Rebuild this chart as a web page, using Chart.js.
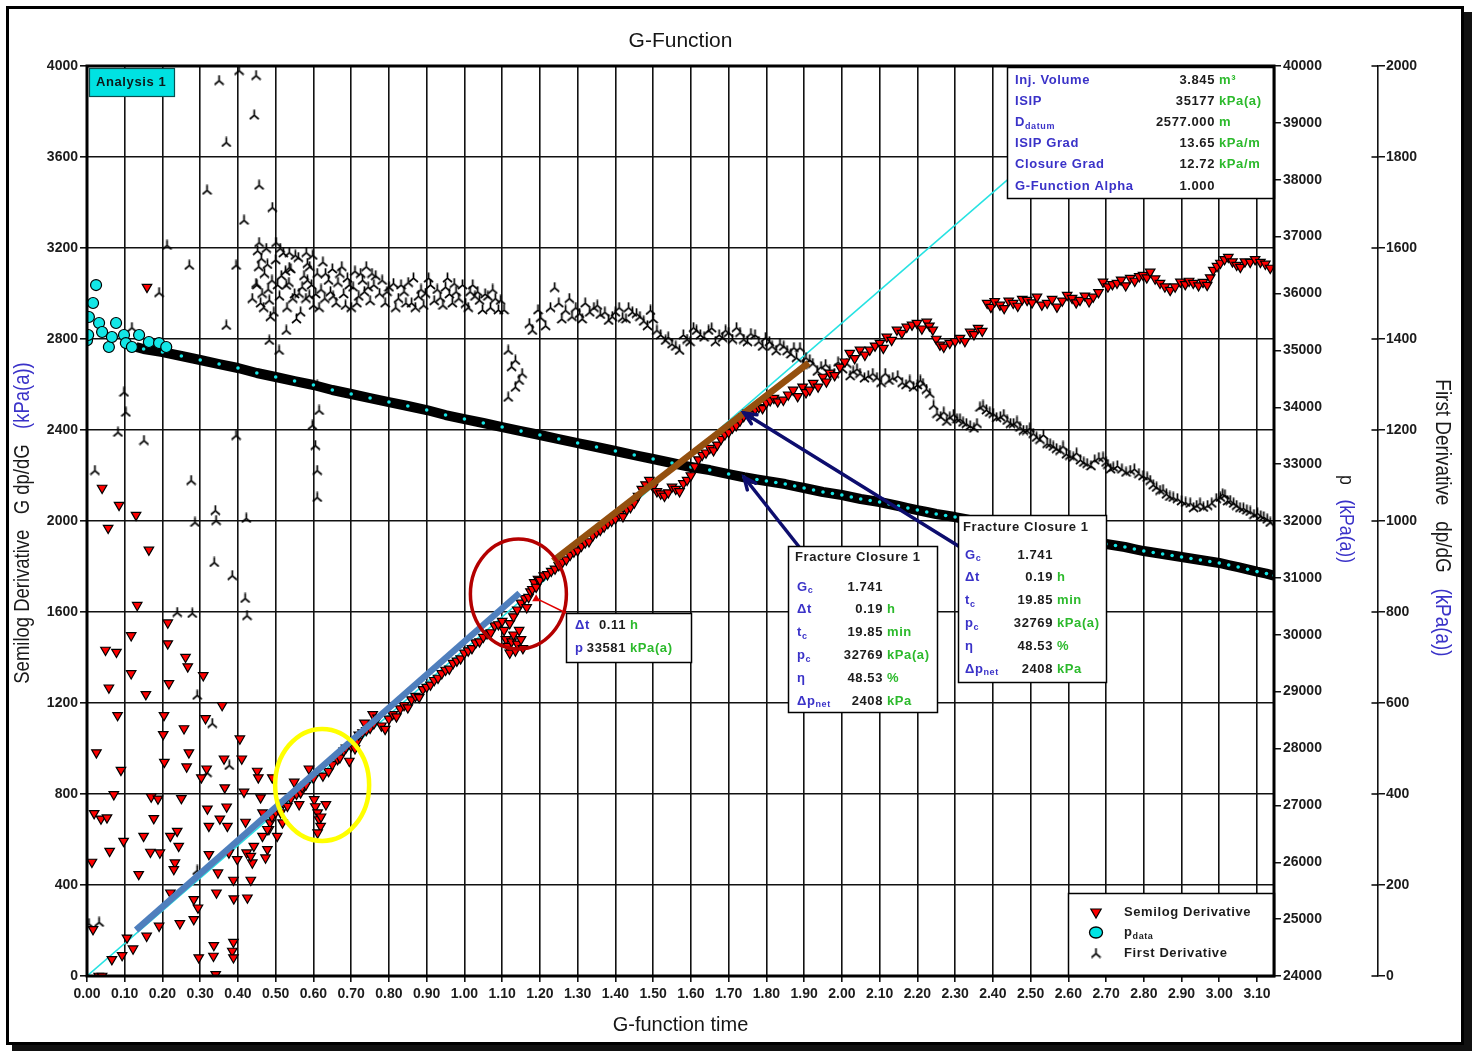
<!DOCTYPE html>
<html>
<head>
<meta charset="utf-8">
<title>G-Function</title>
<script src="https://cdn.jsdelivr.net/npm/chart.js@4.4.1/dist/chart.umd.min.js"></script>
<style>
  html, body { margin: 0; padding: 0; background: #fff; }
  #wrap { width: 1474px; height: 1051px; position: relative; }
  canvas { display: block; }
</style>
</head>
<body>
<div id="wrap"><canvas id="chart" width="1474" height="1051"></canvas></div>
<script>
// ---------------- data ----------------
// Semilog derivative G·dp/dG (kPa(a)) vs G-function time
const semilogPoints = [
  [0.159,3028],[0.040,2145],[0.085,2070],[0.056,1969],[0.130,2026],[0.164,1873],
  [0.133,1630],[0.049,1433],[0.078,1424],[0.117,1497],[0.214,1553],[0.214,1461],[0.261,1402],[0.267,1360],
  [0.117,1330],[0.308,1321],[0.217,1286],[0.058,1267],[0.156,1238],[0.358,1190],[0.081,1146],[0.204,1146],
  [0.314,1132],[0.257,1088],[0.202,1062],[0.405,1043],[0.025,982],[0.270,982],[0.090,905],[0.205,940],
  [0.264,920],[0.363,955],[0.410,955],[0.317,911],[0.303,872],[0.451,901],[0.454,872],[0.491,872],
  [0.365,828],[0.416,809],[0.071,798],[0.170,788],[0.188,779],[0.250,781],[0.460,784],[0.019,715],
  [0.037,691],[0.053,696],[0.177,693],[0.319,735],[0.370,744],[0.352,691],[0.372,659],[0.323,659],
  [0.420,677],[0.465,718],[0.485,674],[0.482,645],[0.097,593],[0.239,637],[0.221,615],[0.150,615],
  [0.243,571],[0.060,549],[0.168,545],[0.193,542],[0.323,535],[0.376,542],[0.423,542],[0.442,571],
  [0.478,557],[0.013,501],[0.233,498],[0.230,469],[0.398,513],[0.438,498],[0.473,520],[0.137,447],
  [0.347,454],[0.388,422],[0.434,422],[0.221,366],[0.343,366],[0.389,340],[0.425,344],[0.283,337],
  [0.294,300],[0.283,249],[0.246,231],[0.191,220],[0.158,176],[0.106,168],[0.122,120],[0.093,91],
  [0.066,73],[0.016,205],[0.336,135],[0.388,149],[0.385,110],[0.335,88],[0.296,81],[0.388,81],
  [0.341,7],[0.031,0],[0.040,0],
  [0.434,527],[0.465,615],[0.478,645],[0.490,700],[0.500,720],[0.504,615],[0.513,718],[0.518,674],
  [0.520,760],[0.531,747],[0.540,780],[0.549,853],[0.555,800],[0.562,754],[0.566,806],[0.570,830],
  [0.580,840],[0.588,911],[0.600,870],[0.602,776],[0.605,745],[0.611,718],[0.615,688],[0.619,659],
  [0.611,630],[0.620,700],[0.625,880],[0.633,754],[0.640,900],[0.650,930],[0.664,952],[0.670,960],
  [0.680,990],[0.686,1003],[0.695,945],[0.700,1010],[0.710,1000],[0.717,1033],[0.720,1060],[0.730,1070],
  [0.735,1113],[0.740,1080],[0.750,1090],[0.757,1150],[0.760,1110],[0.770,1135],
  [0.780,1100],[0.790,1085],[0.800,1130],[0.810,1150],[0.820,1140],[0.830,1175],[0.840,1190],[0.850,1180],
  [0.860,1215],[0.870,1230],[0.880,1225],[0.890,1260],[0.900,1270],[0.910,1280],[0.920,1300],[0.930,1310],
  [0.940,1330],[0.950,1345],[0.960,1350],[0.970,1375],[0.980,1385],[0.990,1395],[1.000,1420],[1.010,1430],
  [1.020,1440],[1.030,1465],[1.040,1470],[1.050,1490],[1.060,1505],[1.070,1510],[1.080,1540],[1.090,1545],
  [1.100,1560],[1.105,1520],[1.110,1480],[1.115,1450],[1.120,1420],[1.125,1470],[1.130,1500],[1.135,1430],
  [1.140,1460],[1.145,1520],[1.150,1480],[1.155,1440],[1.120,1550],[1.130,1580],[1.140,1610],[1.150,1640],
  [1.160,1660],[1.165,1620],[1.170,1665],[1.175,1690],[1.180,1700],[1.185,1730],[1.190,1710],[1.195,1745],
  [1.200,1740],[1.210,1760],[1.220,1765],[1.230,1780],[1.240,1790],[1.250,1805],[1.260,1820],[1.270,1830],
  [1.280,1850],[1.290,1865],[1.300,1870],[1.310,1890],[1.320,1905],[1.330,1910],[1.340,1935],[1.350,1950],
  [1.360,1960],[1.370,1975],[1.380,1990],[1.390,2000],[1.400,2010],[1.410,2030],[1.420,2020],[1.430,2050],
  [1.440,2060],[1.450,2080],[1.460,2110],[1.470,2140],[1.480,2160],[1.490,2180],[1.500,2150],[1.510,2130],
  [1.520,2120],[1.530,2110],[1.540,2125],[1.550,2150],[1.560,2140],[1.570,2130],[1.580,2165],[1.590,2180],
  [1.600,2200],[1.610,2240],[1.620,2270],[1.630,2290],[1.640,2300],[1.650,2320],[1.660,2310],[1.670,2335],
  [1.680,2360],[1.690,2380],[1.700,2390],[1.710,2410],[1.720,2420],[1.730,2440],[1.740,2460],[1.750,2475],
  [1.760,2470],[1.770,2490],[1.780,2500],[1.790,2495],[1.800,2520],[1.810,2530],[1.820,2540],[1.830,2525],
  [1.845,2532],[1.858,2555],[1.871,2576],[1.883,2548],[1.896,2590],[1.905,2565],[1.915,2576],[1.924,2606],
  [1.937,2590],[1.950,2633],[1.959,2612],[1.968,2651],[1.981,2640],[1.995,2677],[2.008,2700],[2.021,2738],
  [2.034,2715],[2.048,2752],[2.061,2730],[2.074,2752],[2.088,2770],[2.101,2782],[2.110,2760],[2.119,2809],
  [2.132,2795],[2.146,2840],[2.159,2826],[2.172,2853],[2.186,2862],[2.199,2870],[2.212,2845],[2.225,2875],
  [2.232,2858],[2.241,2840],[2.250,2800],[2.260,2774],[2.270,2765],[2.286,2782],[2.300,2790],[2.313,2804],
  [2.326,2790],[2.340,2831],[2.350,2820],[2.361,2848],[2.372,2835],[2.385,2958],[2.395,2940],[2.405,2965],
  [2.419,2950],[2.430,2935],[2.442,2968],[2.454,2958],[2.466,2945],[2.478,2975],[2.491,2971],[2.504,2960],
  [2.517,2985],[2.530,2950],[2.544,2958],[2.557,2975],[2.570,2941],[2.584,2968],[2.597,2993],[2.610,2980],
  [2.621,2960],[2.631,2971],[2.644,2990],[2.655,2965],[2.666,2985],[2.680,3005],[2.692,3051],[2.705,3030],
  [2.717,3040],[2.729,3046],[2.740,3060],[2.752,3035],[2.764,3068],[2.776,3055],[2.788,3075],[2.798,3081],
  [2.808,3070],[2.817,3095],[2.830,3065],[2.843,3046],[2.856,3030],[2.870,3015],[2.883,3030],[2.897,3051],
  [2.910,3040],[2.920,3055],[2.931,3046],[2.945,3035],[2.957,3050],[2.968,3037],[2.976,3070],[2.984,3103],
  [2.994,3120],[3.003,3134],[3.014,3150],[3.024,3160],[3.035,3140],[3.046,3125],[3.056,3116],[3.068,3140],
  [3.082,3138],[3.095,3150],[3.109,3138],[3.122,3130],[3.135,3112]
];

// First derivative dp/dG (kPa(a)) vs G-function time
const firstDerivPoints = [
  [0.350,1969],[0.403,1991],[0.448,1980],[0.443,1893],[0.369,1833],[0.318,1728],[0.456,1739],[0.491,1690],
  [0.416,1662],[0.456,1613],[0.501,1613],[0.212,1607],[0.271,1563],[0.395,1563],[0.462,1578],[0.536,1591],
  [0.581,1591],[0.584,1567],[0.536,1558],[0.448,1523],[0.464,1501],[0.191,1503],[0.438,1490],[0.483,1486],
  [0.528,1519],[0.562,1501],[0.589,1497],[0.369,1431],[0.483,1398],[0.528,1420],[0.509,1376],[0.119,1426],
  [0.098,1284],[0.103,1240],[0.082,1196],[0.151,1178],[0.021,1112],[0.276,1090],[0.340,1024],[0.422,1007],
  [0.286,998],[0.342,1002],[0.395,1189],[0.337,910],[0.385,881],[0.419,831],[0.424,793],[0.239,800],
  [0.279,798],[0.332,556],[0.377,464],[0.318,448],[0.292,618],[0.292,233],[0.032,119],[0.005,116],
  [0.610,1299],[0.615,1244],[0.605,1167],[0.610,1112],[0.610,1053],[0.597,1211],
  [0.450,1520],[0.455,1560],[0.460,1480],[0.470,1545],[0.475,1600],[0.480,1510],[0.490,1530],[0.495,1460],
  [0.500,1575],[0.510,1495],[0.515,1540],[0.520,1590],[0.530,1470],[0.535,1525],[0.540,1555],[0.550,1500],
  [0.555,1445],[0.560,1580],[0.570,1515],[0.575,1540],[0.580,1490],[0.590,1560],[0.595,1520],[0.600,1475],
  [0.610,1545],[0.620,1510],[0.625,1570],[0.630,1490],[0.640,1530],[0.645,1505],[0.650,1555],[0.660,1480],
  [0.665,1525],[0.670,1545],[0.680,1500],[0.690,1535],[0.700,1470],[0.705,1515],[0.710,1550],[0.720,1495],
  [0.730,1530],[0.735,1505],[0.740,1560],[0.750,1485],[0.760,1520],[0.765,1540],
  [0.452,1595],[0.468,1470],[0.478,1565],[0.486,1450],[0.505,1520],[0.512,1600],[0.526,1550],[0.545,1490],
  [0.552,1585],[0.566,1460],[0.584,1530],[0.598,1585],[0.606,1500],[0.615,1470],[0.632,1545],[0.652,1495],
  [0.675,1560],[0.685,1475],[0.695,1520],[0.715,1480],[0.725,1545],[0.745,1515],[0.755,1545],
  [0.775,1501],[0.790,1480],[0.800,1515],[0.812,1523],[0.825,1490],[0.840,1505],[0.851,1525],[0.860,1480],
  [0.870,1470],[0.885,1510],[0.897,1501],[0.910,1520],[0.920,1485],[0.936,1492],[0.950,1515],[0.960,1500],
  [0.973,1523],[0.985,1490],[1.003,1479],[1.015,1505],[1.028,1495],[1.040,1486],[1.055,1500],[1.069,1470],
  [1.082,1490],[1.096,1486],[1.105,1465],
  [0.782,1530],[0.795,1505],[0.818,1470],[0.832,1520],[0.845,1480],[0.865,1535],[0.878,1495],[0.892,1475],
  [0.905,1535],[0.928,1510],[0.943,1475],[0.955,1535],[0.968,1480],[0.978,1505],[0.995,1520],[1.010,1470],
  [1.022,1520],[1.035,1505],[1.048,1465],[1.062,1495],[1.075,1510],[1.090,1465],
  [1.116,1376],[1.135,1354],[1.153,1325],[1.135,1295],[1.116,1273],[1.125,1340],[1.145,1310],
  [1.172,1435],[1.202,1448],[1.215,1430],[1.228,1470],[1.239,1514],[1.250,1480],[1.268,1464],[1.285,1450],
  [1.305,1457],[1.320,1480],[1.343,1470],[1.360,1455],[1.382,1442],[1.400,1460],[1.419,1448],[1.435,1470],
  [1.456,1457],[1.475,1440],[1.493,1464],[1.510,1420],[1.533,1398],[1.550,1390],[1.570,1376],[1.590,1400],
  [1.607,1426],[1.625,1410],[1.647,1420],[1.665,1395],[1.684,1404],[1.700,1415],[1.721,1426],[1.740,1400],
  [1.759,1413],[1.780,1395],[1.798,1404],[1.815,1385],[1.836,1391],[1.855,1375],[1.873,1382],[1.889,1382],
  [1.180,1420],[1.195,1465],[1.258,1445],[1.278,1490],[1.295,1470],[1.312,1445],[1.332,1460],[1.352,1475],
  [1.372,1460],[1.392,1450],[1.410,1470],[1.428,1445],[1.445,1460],[1.465,1450],[1.485,1430],[1.500,1445],
  [1.520,1410],[1.540,1405],[1.560,1385],[1.580,1410],[1.598,1395],[1.615,1420],[1.635,1405],[1.655,1425],
  [1.675,1410],[1.692,1420],[1.710,1400],[1.730,1415],[1.750,1395],[1.770,1410],[1.790,1385],[1.808,1395],
  [1.826,1375],[1.846,1385],[1.865,1368],[1.880,1360],
  [1.905,1360],[1.923,1347],[1.945,1340],[1.968,1332],[1.990,1350],[2.013,1347],[2.030,1330],[2.048,1325],
  [2.070,1320],[2.093,1316],[2.115,1325],[2.135,1316],[2.160,1305],[2.180,1310],[2.200,1300],[2.215,1303],
  [2.233,1281],[2.252,1237],[2.270,1240],[2.286,1229],[2.305,1225],[2.321,1218],[2.340,1210],[2.358,1215],
  [2.366,1251],[2.383,1245],[2.401,1237],[2.420,1230],[2.438,1222],[2.455,1215],[2.472,1207],[2.490,1200],
  [2.507,1193],[2.525,1180],[2.544,1171],[2.560,1165],[2.578,1156],[2.595,1148],[2.613,1141],[2.632,1135],
  [2.650,1127],[2.670,1135],[2.692,1141],[2.705,1125],[2.719,1119],[2.742,1115],[2.764,1112],[2.787,1105],
  [2.809,1097],[2.825,1080],[2.843,1068],[2.860,1060],[2.878,1053],[2.900,1045],[2.923,1040],[2.940,1035],
  [2.958,1031],[2.980,1040],[3.003,1053],[3.015,1058],[3.029,1046],[3.046,1035],[3.064,1029],[3.082,1022],
  [3.101,1018],[3.118,1010],[3.135,998],
  [1.897,1345],[1.915,1355],[1.935,1330],[1.957,1345],[1.980,1325],[2.002,1335],[2.022,1320],[2.040,1335],
  [2.060,1315],[2.082,1325],[2.104,1305],[2.125,1310],[2.148,1320],[2.170,1300],[2.190,1295],[2.208,1310],
  [2.224,1290],[2.243,1255],[2.262,1230],[2.278,1220],[2.296,1235],[2.313,1225],[2.330,1215],[2.350,1205],
  [2.374,1255],[2.392,1240],[2.410,1228],[2.429,1235],[2.447,1215],[2.464,1220],[2.481,1200],[2.498,1205],
  [2.516,1185],[2.534,1190],[2.552,1170],[2.569,1160],[2.586,1165],[2.604,1145],[2.622,1150],[2.641,1130],
  [2.660,1122],[2.681,1140],[2.700,1130],[2.712,1115],[2.730,1122],[2.753,1108],[2.775,1115],[2.798,1100],
  [2.817,1090],[2.834,1075],[2.851,1070],[2.869,1055],[2.889,1050],[2.911,1042],[2.932,1030],[2.949,1040],
  [2.969,1035],[2.992,1050],[3.009,1060],[3.022,1045],[3.038,1040],[3.055,1030],[3.073,1025],[3.092,1015],
  [3.110,1012],[3.127,1005]
];

// Measured pressure p (kPa(a)) – scattered values right after shut-in
const pressureEarlyPoints = [
  [0.000,35177],[0.003,35270],[0.005,35587],[0.016,35833],[0.024,36149],[0.032,35481],[0.040,35323],
  [0.058,35059],[0.066,35235],[0.077,35481],[0.098,35270],[0.103,35129],[0.119,35059],[0.138,35270],
  [0.164,35147],[0.191,35129],[0.210,35059]
];
// Measured pressure p (kPa(a)) – falloff trend
const pressurePoints = [
  [0.13,35060],[0.15,35024],[0.20,34971],[0.25,34901],[0.30,34831],[0.35,34760],[0.40,34690],[0.45,34602],
  [0.50,34532],[0.55,34461],[0.60,34391],[0.65,34303],[0.70,34233],[0.75,34162],[0.80,34092],[0.85,34022],
  [0.90,33951],[0.95,33863],[1.00,33793],[1.05,33723],[1.10,33652],[1.15,33581],[1.20,33512],[1.25,33441],
  [1.30,33371],[1.35,33301],[1.40,33231],[1.45,33160],[1.50,33090],[1.55,33020],[1.60,32949],[1.65,32896],
  [1.70,32826],[1.741,32769],[1.775,32730],[1.80,32703],[1.825,32676],[1.85,32650],[1.875,32615],[1.90,32580],
  [1.925,32545],[1.95,32510],[1.975,32484],[2.00,32457],[2.025,32422],[2.05,32387],[2.075,32360],[2.10,32334],
  [2.125,32299],[2.15,32264],[2.175,32228],[2.20,32193],[2.225,32158],[2.25,32123],[2.275,32097],[2.30,32070],
  [2.325,32035],[2.35,32000],[2.375,31974],[2.40,31947],[2.425,31920],[2.45,31894],[2.475,31859],[2.50,31824],
  [2.525,31797],[2.55,31771],[2.575,31744],[2.60,31718],[2.625,31683],[2.65,31648],[2.675,31621],[2.70,31595],
  [2.725,31569],[2.75,31543],[2.775,31507],[2.80,31472],[2.825,31446],[2.85,31420],[2.875,31393],[2.90,31367],
  [2.925,31340],[2.95,31314],[2.975,31288],[3.00,31262],[3.025,31226],[3.05,31190],[3.075,31150],[3.10,31110],
  [3.125,31075],[3.145,31040]
];

// Straight-line fits on the semilog derivative (G, G·dp/dG)
const originLinePoints = [[0, 0], [3.145, 4513]];
const earlyFitPoints   = [[0.13, 202], [1.146, 1683]];
const lateFitPoints    = [[1.235, 1825], [1.912, 2695]];

// Axis ranges / tick steps
const gRange = [0, 3.145], gStep = 0.1;
const semilogRange = [0, 4000], semilogStep = 400;
const pressureRange = [24000, 40000], pressureStep = 1000;
const firstDerivRange = [0, 2000], firstDerivStep = 200;

// Text panels
const infoLabels = ['Inj. Volume', 'ISIP', 'D_datum', 'ISIP Grad', 'Closure Grad', 'G-Function Alpha'];
const infoValues = ['3.845', '35177', '2577.000', '13.65', '12.72', '1.000'];
const infoUnits  = ['m³', 'kPa(a)', 'm', 'kPa/m', 'kPa/m', ''];
const closureTitle  = 'Fracture Closure 1';
const closureLabels = ['G_c', 'Δt', 't_c', 'p_c', 'η', 'Δp_net'];
const closureValues = ['1.741', '0.19', '19.85', '32769', '48.53', '2408'];
const closureUnits  = ['', 'h', 'min', 'kPa(a)', '%', 'kPa'];
const cursorLabels = ['Δt', 'p'];
const cursorValues = ['0.11', '33581'];
const cursorUnits  = ['h', 'kPa(a)'];
const closureSemilogValue = 2475;          // G·dp/dG at closure
const cursorPoint = [1.19, 1660];          // marked semilog point at Δt = 0.11 h
const earlyCluster = [0.623, 840];         // highlighted group (yellow)
const cursorCluster = [1.143, 1679];       // highlighted group (red)
const legendLabels = ['Semilog Derivative', 'p_data', 'First Derivative'];

// ---------------- drawing ----------------
const FONT = "'Liberation Sans', Arial, Helvetica, sans-serif";
const BLUE_TXT = '#3a32c8', GREEN_TXT = '#2cba2c', DARK_TXT = '#1c1c1c';

function pts(list) { return list.map(p => ({ x: p[0], y: p[1] })); }

// turned-Y marker for the first derivative
function makeFirstDerivMarker() {
  const c = document.createElement('canvas');
  c.width = 11; c.height = 11;
  const g = c.getContext('2d');
  g.strokeStyle = '#000'; g.lineWidth = 1.7; g.lineCap = 'butt';
  g.beginPath();
  g.moveTo(5.5, 0.5); g.lineTo(5.5, 6.2);
  g.moveTo(5.5, 6.2); g.lineTo(1, 10);
  g.moveTo(5.5, 6.2); g.lineTo(10, 10);
  g.stroke();
  return c;
}
const fdMarker = makeFirstDerivMarker();

function splitSub(label) {
  const i = label.indexOf('_');
  return i < 0 ? [{ t: label }] : [{ t: label.slice(0, i) }, { t: label.slice(i + 1), sub: true }];
}

function richWidth(ctx, parts, size) {
  let w = 0;
  parts.forEach(p => { ctx.font = `bold ${p.sub ? Math.round(size * 0.7) : size}px ${FONT}`; w += ctx.measureText(p.t).width; });
  return w;
}
function drawRich(ctx, parts, x, y, color, size, align) {
  const w = richWidth(ctx, parts, size);
  let cx = align === 'right' ? x - w : x;
  ctx.textAlign = 'left'; ctx.textBaseline = 'middle'; ctx.fillStyle = color;
  parts.forEach(p => {
    ctx.font = `bold ${p.sub ? Math.round(size * 0.7) : size}px ${FONT}`;
    ctx.fillText(p.t, cx, p.sub ? y + 4 : y);
    cx += ctx.measureText(p.t).width;
  });
}

function drawPanel(ctx, box, rows, opt) {
  ctx.fillStyle = '#fff';
  ctx.fillRect(box.x, box.y, box.w, box.h);
  ctx.strokeStyle = '#000'; ctx.lineWidth = 1.5;
  ctx.strokeRect(box.x + 0.5, box.y + 0.5, box.w, box.h);
  if (opt.title) drawRich(ctx, [{ t: opt.title }], box.x + opt.labelX - 2, box.y + opt.titleY, DARK_TXT, 13, 'left');
  rows.labels.forEach((lab, i) => {
    const y = box.y + opt.rowY + i * opt.rowStep;
    drawRich(ctx, splitSub(lab), box.x + opt.labelX, y, BLUE_TXT, 13, 'left');
    drawRich(ctx, [{ t: rows.values[i] }], box.x + opt.valueX, y, DARK_TXT, 13, 'right');
    if (rows.units[i]) drawRich(ctx, [{ t: rows.units[i] }], box.x + opt.valueX + 4, y, GREEN_TXT, 13, 'left');
  });
}

function drawArrow(ctx, x0, y0, x1, y1) {
  ctx.beginPath(); ctx.moveTo(x0, y0); ctx.lineTo(x1, y1); ctx.stroke();
  const ang = Math.atan2(y1 - y0, x1 - x0), L = 13, sp = 0.42;
  ctx.beginPath();
  ctx.moveTo(x1 - L * Math.cos(ang - sp), y1 - L * Math.sin(ang - sp));
  ctx.lineTo(x1, y1);
  ctx.lineTo(x1 - L * Math.cos(ang + sp), y1 - L * Math.sin(ang + sp));
  ctx.stroke();
}

function drawDownTriangle(ctx, x, y, r) {
  ctx.beginPath();
  ctx.moveTo(x - r * 0.866, y - r * 0.5);
  ctx.lineTo(x + r * 0.866, y - r * 0.5);
  ctx.lineTo(x, y + r);
  ctx.closePath();
  ctx.fillStyle = '#ff0000'; ctx.fill();
  ctx.strokeStyle = '#000'; ctx.lineWidth = 1.2; ctx.stroke();
}

// vertical title made of coloured pieces, horizontally condensed
function drawVerticalTitle(ctx, pieces, cx, cy, angle, size) {
  ctx.save();
  ctx.translate(cx, cy);
  ctx.rotate(angle);
  ctx.scale(0.84, 1);
  ctx.font = `${size}px ${FONT}`;
  ctx.textBaseline = 'middle'; ctx.textAlign = 'left';
  const total = pieces.reduce((s, p) => s + ctx.measureText(p.t).width, 0);
  let x = -total / 2;
  pieces.forEach(p => { ctx.fillStyle = p.c; ctx.fillText(p.t, x, 0); x += ctx.measureText(p.t).width; });
  ctx.restore();
}

const overlay = {
  id: 'overlay',
  afterDatasetsDraw(chart) {
    const { ctx, chartArea: a, scales: s } = chart;
    const X = v => s.x.getPixelForValue(v);
    const Y = v => s.y.getPixelForValue(v);
    const YP = v => s.yP.getPixelForValue(v);
    ctx.save();
    ctx.letterSpacing = '0.6px';

    // highlighted groups
    ctx.lineWidth = 4.5; ctx.strokeStyle = '#ffff00';
    ctx.beginPath(); ctx.ellipse(X(earlyCluster[0]), Y(earlyCluster[1]), 47, 56, 0, 0, Math.PI * 2); ctx.stroke();
    ctx.lineWidth = 3.5; ctx.strokeStyle = '#b40000';
    ctx.beginPath(); ctx.ellipse(X(cursorCluster[0]), Y(cursorCluster[1]), 48, 55, 0, 0, Math.PI * 2); ctx.stroke();

    // closure arrows
    const gc = parseFloat(closureValues[0]), pc = parseFloat(closureValues[3]);
    const box1 = { x: 788, y: 546, w: 149, h: 166 };
    const box2 = { x: 958, y: 515, w: 148, h: 167 };
    const box3 = { x: 566, y: 613, w: 125, h: 49 };
    ctx.strokeStyle = '#0d0d6e'; ctx.lineWidth = 3.5; ctx.lineCap = 'round';
    drawArrow(ctx, box1.x + 12, box1.y + 2, X(gc), YP(pc));
    drawArrow(ctx, box2.x + 2, box2.y + 32, X(gc), Y(closureSemilogValue));

    // cursor leader
    ctx.strokeStyle = '#e00000'; ctx.lineWidth = 1.5;
    ctx.beginPath(); ctx.moveTo(box3.x, box3.y); ctx.lineTo(X(cursorPoint[0]), Y(cursorPoint[1])); ctx.stroke();
    ctx.fillStyle = '#e00000';
    ctx.beginPath();
    const cpx = X(cursorPoint[0]), cpy = Y(cursorPoint[1]);
    ctx.moveTo(cpx, cpy - 4); ctx.lineTo(cpx - 4, cpy + 3); ctx.lineTo(cpx + 4, cpy + 3); ctx.closePath(); ctx.fill();

    // panels
    const closureRows = { labels: closureLabels, values: closureValues, units: closureUnits };
    drawPanel(ctx, box1, closureRows, { title: closureTitle, titleY: 11, labelX: 9, rowY: 41, rowStep: 22.8, valueX: 95 });
    drawPanel(ctx, box2, closureRows, { title: closureTitle, titleY: 12, labelX: 7, rowY: 40, rowStep: 22.8, valueX: 95 });
    drawPanel(ctx, box3, { labels: cursorLabels, values: cursorValues, units: cursorUnits },
      { labelX: 9, rowY: 12, rowStep: 23, valueX: 60 });
    drawPanel(ctx, { x: 1007, y: a.top + 1, w: a.right - 1007, h: 131 },
      { labels: infoLabels, values: infoValues, units: infoUnits },
      { labelX: 8, rowY: 13, rowStep: 21.2, valueX: 208 });

    // analysis tag
    ctx.fillStyle = '#00e2e2';
    ctx.fillRect(a.left + 2, a.top + 2, 86, 29);
    ctx.strokeStyle = '#0a5050'; ctx.lineWidth = 1.2;
    ctx.strokeRect(a.left + 2.5, a.top + 2.5, 85, 28);
    drawRich(ctx, [{ t: 'Analysis 1' }], a.left + 9, a.top + 16, '#0c1a1a', 13, 'left');

    // legend
    const lg = { x: 1068, y: a.bottom - 83, w: a.right - 1068, h: 83 };
    ctx.fillStyle = '#fff'; ctx.fillRect(lg.x, lg.y, lg.w, lg.h);
    ctx.strokeStyle = '#000'; ctx.lineWidth = 1.5; ctx.strokeRect(lg.x + 0.5, lg.y + 0.5, lg.w, lg.h);
    const mx = lg.x + 28, r0 = lg.y + 19, rs = 20.5;
    drawDownTriangle(ctx, mx, r0, 6);
    ctx.beginPath(); ctx.ellipse(mx, r0 + rs, 6.5, 5.5, 0, 0, Math.PI * 2);
    ctx.fillStyle = '#00e4e4'; ctx.fill(); ctx.strokeStyle = '#000'; ctx.lineWidth = 1.3; ctx.stroke();
    ctx.drawImage(fdMarker, mx - 5.5, r0 + 2 * rs - 5.5);
    legendLabels.forEach((t, i) => drawRich(ctx, splitSub(t), lg.x + 56, r0 + i * rs, DARK_TXT, 13, 'left'));

    // plot frame
    ctx.letterSpacing = '0px';
    ctx.strokeStyle = '#000'; ctx.lineWidth = 3;
    ctx.strokeRect(a.left, a.top, a.right - a.left, a.bottom - a.top);

    // inner half of the first-derivative axis ticks
    const sf = s.yFD;
    ctx.lineWidth = 1.5;
    for (let v = firstDerivRange[0]; v <= firstDerivRange[1]; v += firstDerivStep) {
      const y = sf.getPixelForValue(v);
      ctx.beginPath(); ctx.moveTo(sf.left - 6, y); ctx.lineTo(sf.left, y); ctx.stroke();
    }
    ctx.restore();
  },
  afterDraw(chart) {
    const { ctx, chartArea: a } = chart;
    ctx.save();
    const mid = (a.top + a.bottom) / 2;
    drawVerticalTitle(ctx, [{ t: 'Semilog Derivative   G dp/dG   ', c: '#1a1a1a' }, { t: '(kPa(a))', c: '#3a32c8' }],
      23, mid + 2, -Math.PI / 2, 22);
    drawVerticalTitle(ctx, [{ t: 'p   ', c: '#1a1a1a' }, { t: '(kPa(a))', c: '#3a32c8' }],
      1346, mid - 2, Math.PI / 2, 21);
    drawVerticalTitle(ctx, [{ t: 'First Derivative   dp/dG   ', c: '#1a1a1a' }, { t: '(kPa(a))', c: '#3a32c8' }],
      1442, mid - 3, Math.PI / 2, 22.5);
    // page frame with drop shadow
    ctx.fillStyle = '#111';
    ctx.fillRect(1463, 12, 9, 1039);
    ctx.fillRect(12, 1044, 1460, 7);
    ctx.strokeStyle = '#000'; ctx.lineWidth = 3;
    ctx.strokeRect(7.5, 7.5, 1455, 1036);
    ctx.restore();
  }
};

const tickFont = { family: FONT, size: 14, weight: 'bold' };
const gridStyle = { color: '#111', lineWidth: 1.6 };
const plainNumber = v => String(v);

new Chart(document.getElementById('chart'), {
  type: 'scatter',
  data: {
    datasets: [
      { label: 'Origin line', data: pts(originLinePoints), showLine: true, borderColor: '#26e2e2', borderWidth: 1.6,
        pointRadius: 0, yAxisID: 'y', order: 10 },
      { label: 'p data', data: pts(pressurePoints), showLine: true, borderColor: '#000', borderWidth: 10,
        borderJoinStyle: 'round', pointRadius: 1.8, pointBackgroundColor: '#16e6e6', pointBorderWidth: 0,
        yAxisID: 'yP', order: 9 },
      { label: 'First Derivative', data: pts(firstDerivPoints), pointStyle: fdMarker, pointRadius: 5,
        yAxisID: 'yFD', order: 8 },
      { label: 'Semilog Derivative', data: pts(semilogPoints), pointStyle: 'triangle', pointRotation: 180,
        pointRadius: 5.5, pointBackgroundColor: '#ff0000', pointBorderColor: '#000', pointBorderWidth: 1.2,
        yAxisID: 'y', order: 7 },
      { label: 'p data early', data: pts(pressureEarlyPoints), pointStyle: 'circle', pointRadius: 5.5,
        pointBackgroundColor: '#12e6e6', pointBorderColor: '#000', pointBorderWidth: 1.2, yAxisID: 'yP', order: 6 },
      { label: 'Early fit', data: pts(earlyFitPoints), showLine: true, borderColor: '#4f7fbd', borderWidth: 6.5,
        pointRadius: 0, yAxisID: 'y', order: 2 },
      { label: 'Late fit', data: pts(lateFitPoints), showLine: true, borderColor: '#94500f', borderWidth: 6.5,
        pointRadius: 0, yAxisID: 'y', order: 1 }
    ]
  },
  options: {
    responsive: false,
    animation: false,
    events: [],
    layout: { padding: 0 },
    plugins: {
      legend: { display: false },
      tooltip: { enabled: false },
      title: { display: true, fullSize: false, text: 'G-Function', color: '#161616',
        font: { family: FONT, size: 21, weight: 'normal' }, padding: { top: 29, bottom: 11.8 } }
    },
    scales: {
      x: {
        type: 'linear', position: 'bottom', min: gRange[0], max: gRange[1],
        ticks: { stepSize: gStep, includeBounds: false, autoSkip: false, maxRotation: 0, padding: 4,
          font: tickFont, color: DARK_TXT, callback: v => v.toFixed(2) },
        grid: { ...gridStyle, tickLength: 6 },
        border: { display: false },
        title: { display: true, text: 'G-function time', color: '#161616',
          font: { family: FONT, size: 20 }, padding: { top: 0, bottom: 14 } },
        afterFit(sc) { sc.height = 75; }
      },
      y: {
        type: 'linear', position: 'left', min: semilogRange[0], max: semilogRange[1],
        ticks: { stepSize: semilogStep, padding: 2, font: tickFont, color: DARK_TXT, callback: plainNumber },
        grid: { ...gridStyle, tickLength: 7 },
        border: { display: false },
        afterFit(sc) { sc.width = 87; }
      },
      yP: {
        type: 'linear', position: 'right', weight: 0, min: pressureRange[0], max: pressureRange[1],
        ticks: { stepSize: pressureStep, padding: 2, font: tickFont, color: DARK_TXT, callback: plainNumber },
        grid: { drawOnChartArea: false, color: '#111', lineWidth: 1.5, tickLength: 7 },
        border: { display: false },
        afterFit(sc) { sc.width = 104; }
      },
      yFD: {
        type: 'linear', position: 'right', weight: 1, min: firstDerivRange[0], max: firstDerivRange[1],
        ticks: { stepSize: firstDerivStep, padding: 1, font: tickFont, color: DARK_TXT, callback: plainNumber },
        grid: { drawOnChartArea: false, color: '#111', lineWidth: 1.5, tickLength: 7 },
        border: { display: true, color: '#111', width: 1.6 },
        afterFit(sc) { sc.width = 96; }
      }
    }
  },
  plugins: [overlay]
});
</script>
</body>
</html>
